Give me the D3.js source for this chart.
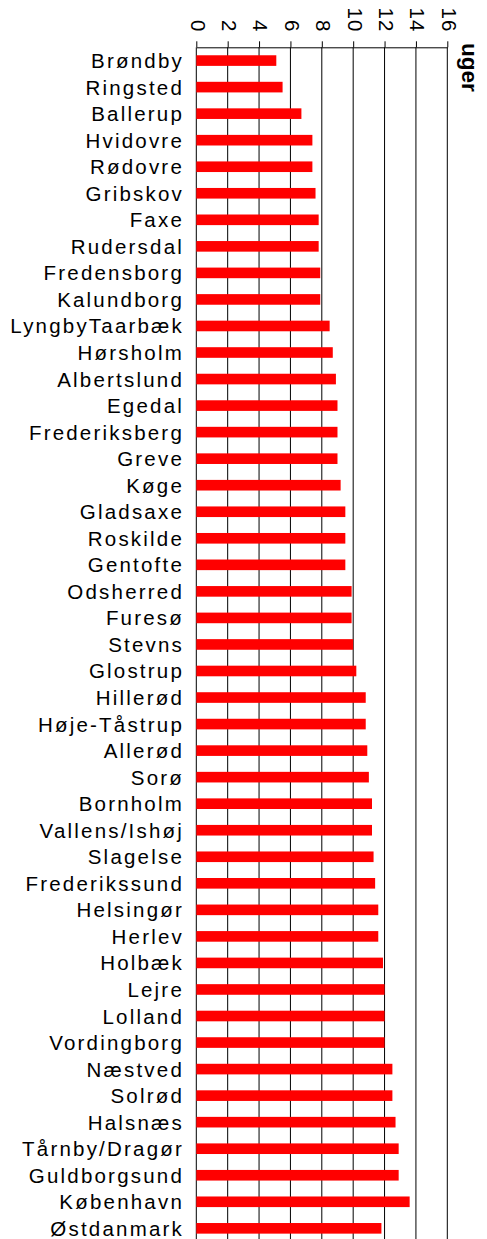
<!DOCTYPE html>
<html>
<head>
<meta charset="utf-8">
<script src="https://cdn.jsdelivr.net/npm/d3@7"></script>
<style>
  html, body { margin: 0; padding: 0; background: #fff; }
  svg { display: block; }
  text { font-family: "Liberation Sans", Arial, sans-serif; fill: #000; }
</style>
</head>
<body>
<svg id="chart" width="487" height="1239"></svg>
<script>
// Municipalities, top to bottom
const categories = [
  "Brøndby", "Ringsted", "Ballerup", "Hvidovre", "Rødovre", "Gribskov", "Faxe",
  "Rudersdal", "Fredensborg", "Kalundborg", "LyngbyTaarbæk", "Hørsholm",
  "Albertslund", "Egedal", "Frederiksberg", "Greve", "Køge", "Gladsaxe",
  "Roskilde", "Gentofte", "Odsherred", "Furesø", "Stevns", "Glostrup",
  "Hillerød", "Høje-Tåstrup", "Allerød", "Sorø", "Bornholm", "Vallens/Ishøj",
  "Slagelse", "Frederikssund", "Helsingør", "Herlev", "Holbæk", "Lejre",
  "Lolland", "Vordingborg", "Næstved", "Solrød", "Halsnæs", "Tårnby/Dragør",
  "Guldborgsund", "København", "Østdanmark"
];

// Weeks
const values = [
  5.1, 5.5, 6.7, 7.4, 7.4, 7.6, 7.8,
  7.8, 7.9, 7.9, 8.5, 8.7,
  8.9, 9.0, 9.0, 9.0, 9.2, 9.5,
  9.5, 9.5, 9.9, 9.9, 10.0, 10.2,
  10.8, 10.8, 10.9, 11.0, 11.2, 11.2,
  11.3, 11.4, 11.6, 11.6, 11.9, 12.0,
  12.0, 12.0, 12.5, 12.5, 12.7, 12.9,
  12.9, 13.6, 11.8
];

const tickValues = [0, 2, 4, 6, 8, 10, 12, 14, 16];
const unitLabel = "uger";

const svg = d3.select("#chart");

const x = d3.scaleLinear().domain([0, 16]).range([196.3, 447.3]);
const y = d3.scaleBand()
  .domain(categories)
  .range([47.3, 47.3 + 45 * 26.54])
  .paddingInner(0.6)
  .paddingOuter(0.3);

const plotTop = y.range()[0];
const plotBottom = y.range()[1];

// Vertical gridlines
svg.append("g")
  .selectAll("line")
  .data(tickValues)
  .join("line")
  .attr("x1", d => x(d)).attr("x2", d => x(d))
  .attr("y1", plotTop).attr("y2", plotBottom)
  .attr("stroke", "#000")
  .attr("stroke-width", 1);

// Top axis with ticks pointing up
const axis = svg.append("g")
  .attr("transform", `translate(0,${plotTop})`)
  .call(d3.axisTop(x).tickValues(tickValues).tickSize(6).tickSizeOuter(0).tickFormat(d3.format("d")));
axis.select(".domain").attr("stroke", "#000");
axis.selectAll(".tick line").attr("stroke", "#000");
axis.selectAll(".tick text")
  .attr("font-size", 20.5)
  .attr("letter-spacing", "1px")
  .attr("text-anchor", "end")
  .attr("transform", "translate(0,-15) rotate(90)")
  .attr("x", 0).attr("y", 0)
  .attr("dy", "0.3em");

// Bars
svg.append("g")
  .selectAll("rect")
  .data(values)
  .join("rect")
  .attr("x", x(0))
  .attr("y", (d, i) => y(categories[i]))
  .attr("width", d => x(d) - x(0))
  .attr("height", y.bandwidth())
  .attr("fill", "#ff0000");

// Category labels
svg.append("g")
  .selectAll("text")
  .data(categories)
  .join("text")
  .attr("x", 184)
  .attr("y", d => y(d) + y.bandwidth() / 2 + 7.5)
  .attr("text-anchor", "end")
  .attr("font-size", 20.5)
  .attr("letter-spacing", "2.2px")
  .text(d => d);

// Unit label
svg.append("text")
  .attr("transform", "translate(461.5,43) rotate(90)")
  .attr("font-size", 22.5)
  .attr("font-weight", "bold")
  .text(unitLabel);
</script>
</body>
</html>
